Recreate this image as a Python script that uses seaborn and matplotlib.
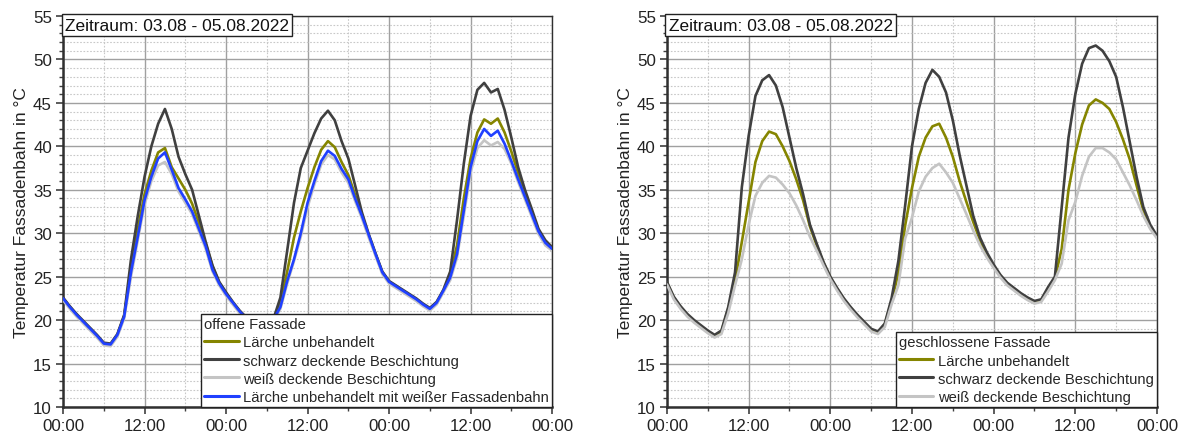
"""
Temperatur der Fassadenbahn, offene vs. geschlossene Fassade
"""

import matplotlib
matplotlib.use("Agg")
import matplotlib.pyplot as plt
from matplotlib.ticker import MultipleLocator, FuncFormatter
import pandas as pd
import seaborn as sns

# Stunden ab 03.08. 00:00
stunden = list(range(73))

# offene Fassade
offen_laerche = [22.5, 21.5, 20.6, 19.8, 19.0, 18.2, 17.3, 17.2, 18.3, 20.5, 26.0, 30.5, 34.5, 37.2, 39.3, 39.8,
                 37.6, 36.3, 35.0, 33.4, 31.2, 28.8, 26.2, 24.3, 23.1, 22.0, 21.0, 20.2, 19.6, 19.2, 19.3, 20.1,
                 22.0, 25.6, 29.5, 32.5, 35.2, 37.6, 39.6, 40.6, 39.9, 38.2, 36.7, 34.4, 32.0, 29.8, 27.6, 25.5,
                 24.4, 23.9, 23.4, 22.9, 22.4, 21.8, 21.3, 22.0, 23.4, 25.2, 28.6, 34.0, 38.6, 41.6, 43.1, 42.6,
                 43.2, 41.6, 39.4, 36.9, 34.6, 32.5, 30.3, 29.0, 28.3]
offen_schwarz = [22.6, 21.6, 20.7, 19.9, 19.1, 18.3, 17.4, 17.3, 18.4, 20.6, 27.0, 32.0, 36.5, 40.0, 42.6, 44.3,
                 42.0, 38.8, 36.8, 35.0, 32.0, 29.0, 26.3, 24.4, 23.2, 22.1, 21.1, 20.3, 19.7, 19.3, 19.4, 20.2,
                 22.6, 28.0, 33.5, 37.5, 39.5, 41.5, 43.2, 44.1, 43.0, 40.6, 38.6, 35.5, 32.4, 29.9, 27.7, 25.6,
                 24.5, 24.0, 23.5, 23.0, 22.5, 21.9, 21.4, 22.1, 23.5, 25.6, 31.5, 38.0, 43.5, 46.5, 47.3, 46.2,
                 46.6, 44.2, 41.0, 37.6, 35.0, 32.8, 30.5, 29.2, 28.4]
offen_weiss = [22.3, 21.3, 20.4, 19.6, 18.8, 18.0, 17.1, 17.0, 18.1, 20.2, 25.0, 29.2, 33.3, 36.0, 37.8, 38.2,
               36.8, 34.8, 33.5, 32.2, 30.2, 28.2, 25.6, 24.0, 22.8, 21.8, 20.8, 20.0, 19.4, 19.0, 19.1, 19.9,
               21.3, 24.2, 26.8, 29.6, 33.0, 35.6, 37.9, 39.0, 38.5, 37.0, 35.8, 33.7, 31.7, 29.5, 27.4, 25.3,
               24.2, 23.7, 23.2, 22.7, 22.2, 21.6, 21.1, 21.8, 23.2, 24.6, 27.2, 32.0, 37.0, 39.8, 40.7, 40.1,
               40.5, 39.7, 38.0, 35.9, 33.9, 31.9, 29.9, 28.6, 28.0]
offen_folie = [22.5, 21.5, 20.6, 19.8, 19.0, 18.2, 17.3, 17.2, 18.3, 20.4, 25.5, 29.6, 33.8, 36.5, 38.6, 39.3,
               37.3, 35.2, 33.9, 32.5, 30.5, 28.5, 25.8, 24.2, 23.0, 22.0, 21.0, 20.2, 19.6, 19.2, 19.3, 20.1,
               21.5, 24.5, 27.0, 30.0, 33.5, 36.0, 38.3, 39.5, 38.9, 37.4, 36.2, 34.0, 32.0, 29.8, 27.6, 25.5,
               24.4, 23.9, 23.4, 22.9, 22.4, 21.8, 21.3, 22.0, 23.4, 24.9, 27.6, 32.6, 37.6, 40.6, 42.0, 41.2,
               41.8, 40.3, 38.3, 36.2, 34.2, 32.2, 30.2, 28.9, 28.2]

# geschlossene Fassade
zu_laerche = [24.3, 22.6, 21.5, 20.6, 19.9, 19.3, 18.7, 18.2, 18.7, 21.3, 24.5, 29.0, 33.6, 38.2, 40.6, 41.7,
              41.4, 40.0, 38.3, 36.2, 33.8, 30.8, 28.6, 26.6, 24.9, 23.6, 22.4, 21.4, 20.5, 19.7, 18.9, 18.6,
              19.5, 22.2, 25.4, 30.9, 35.2, 38.8, 41.0, 42.3, 42.6, 41.0, 38.8, 36.0, 33.6, 31.3, 29.2, 27.5,
              26.2, 25.1, 24.2, 23.6, 23.0, 22.5, 22.1, 22.3, 23.6, 24.8, 28.2, 35.0, 39.2, 42.5, 44.7, 45.4,
              45.0, 44.3, 42.8, 40.8, 38.5, 35.5, 32.6, 30.8, 29.6]
zu_schwarz = [24.4, 22.7, 21.6, 20.7, 20.0, 19.4, 18.8, 18.3, 18.8, 21.5, 25.5, 35.3, 41.2, 45.8, 47.6, 48.2,
              47.0, 44.5, 41.0, 37.5, 34.5, 31.0, 28.8, 26.7, 25.0, 23.7, 22.5, 21.5, 20.6, 19.8, 19.0, 18.7,
              19.6, 22.5, 26.8, 33.2, 40.0, 44.3, 47.3, 48.8, 48.0, 46.2, 43.0, 39.0, 35.5, 32.0, 29.5, 27.8,
              26.4, 25.2, 24.3, 23.7, 23.1, 22.6, 22.2, 22.4, 23.8, 25.0, 33.0, 41.0, 46.0, 49.5, 51.3, 51.6,
              51.0, 49.8, 48.0, 44.5, 40.5, 36.5, 33.0, 31.0, 29.7]
zu_weiss = [24.1, 22.4, 21.3, 20.4, 19.7, 19.1, 18.5, 18.0, 18.4, 20.8, 24.0, 27.0, 31.0, 34.3, 35.8, 36.6,
            36.4, 35.6, 34.6, 33.2, 31.5, 29.6, 28.0, 26.3, 24.7, 23.4, 22.2, 21.2, 20.3, 19.5, 18.7, 18.4,
            19.2, 21.8, 24.0, 29.4, 31.8, 34.8, 36.5, 37.5, 38.0, 37.0, 35.8, 34.0, 32.2, 30.3, 28.6, 27.2,
            26.0, 24.9, 24.0, 23.4, 22.8, 22.3, 21.9, 22.1, 23.3, 24.6, 26.5, 31.5, 33.6, 36.6, 38.8, 39.8,
            39.8, 39.3, 38.5, 37.0, 35.5, 33.8, 32.0, 30.5, 29.4]

namen = ["Lärche unbehandelt", "schwarz deckende Beschichtung", "weiß deckende Beschichtung",
         "Lärche unbehandelt mit weißer Fassadenbahn"]
farben = ["#858500", "#404040", "#c4c4c4", "#2040ff"]

sns.set_style("white")
plt.rcParams["font.family"] = ["Liberation Sans", "DejaVu Sans"]

fig = plt.figure(figsize=(11.83, 4.39), dpi=100)
ax1 = fig.add_axes([0.0533, 0.0706, 0.4134, 0.8907])
ax2 = fig.add_axes([0.5638, 0.0706, 0.4142, 0.8907])


def panel(ax, reihen, titel):
    df = pd.DataFrame({"Stunde": stunden})
    for name, werte in zip(namen, reihen):
        df[name] = werte
    df = df.melt(id_vars="Stunde", var_name="Reihe", value_name="Temperatur")
    n = len(reihen)
    sns.lineplot(data=df, x="Stunde", y="Temperatur", hue="Reihe", hue_order=namen[:n],
                 palette=farben[:n], linewidth=1.9, legend=False, ax=ax, zorder=3)

    ax.set_xlim(0, 72)
    ax.set_ylim(10, 55)
    ax.xaxis.set_major_locator(MultipleLocator(12))
    ax.xaxis.set_minor_locator(MultipleLocator(6))
    ax.yaxis.set_major_locator(MultipleLocator(5))
    ax.yaxis.set_minor_locator(MultipleLocator(1))
    ax.xaxis.set_major_formatter(FuncFormatter(lambda h, pos: "%02d:00" % (int(round(h)) % 24)))

    ax.grid(which="major", color="#a0a0a0", linewidth=1.0, linestyle="-")
    ax.grid(which="minor", color="#c8c8c8", linewidth=0.8, linestyle=(0, (1.5, 1.5)))
    ax.set_axisbelow(True)

    ax.tick_params(which="major", direction="out", length=5, width=1.2, color="#404040",
                   labelsize=12.2, labelcolor="#222222", pad=3, bottom=True, left=True)
    ax.tick_params(which="minor", direction="out", length=3, width=1.0, color="#404040",
                   bottom=True, left=True)
    for seite, spine in ax.spines.items():
        spine.set_visible(True)
        spine.set_color("#303030")
        spine.set_linewidth(1.8 if seite in ("left", "bottom") else 1.0)

    ax.set_xlabel("")
    ax.set_ylabel("Temperatur Fassadenbahn in °C", fontsize=12.5, color="#222222", labelpad=3)

    ax.text(0.004, 0.995, "Zeitraum: 03.08 - 05.08.2022", transform=ax.transAxes,
            ha="left", va="top", fontsize=12.5, color="#111111", zorder=6,
            bbox=dict(boxstyle="square,pad=0.2", fc="white", ec="#222222", lw=1.0))

    linien = ax.get_lines()[:n]
    leg = ax.legend(linien, namen[:n], title=titel, loc="lower right", bbox_to_anchor=(1, 0),
                    borderaxespad=0, fontsize=10.6, title_fontsize=10.6, handlelength=2.35,
                    handletextpad=0.3, labelspacing=0.28, borderpad=0.22, fancybox=False,
                    framealpha=1, edgecolor="#222222")
    leg._legend_box.align = "left"
    leg.get_frame().set_linewidth(1.0)
    leg.set_zorder(7)
    for ln in leg.get_lines():
        ln.set_linewidth(2.2)


panel(ax1, [offen_laerche, offen_schwarz, offen_weiss, offen_folie], "offene Fassade")
panel(ax2, [zu_laerche, zu_schwarz, zu_weiss], "geschlossene Fassade")

fig.savefig("out.png", dpi=100)
